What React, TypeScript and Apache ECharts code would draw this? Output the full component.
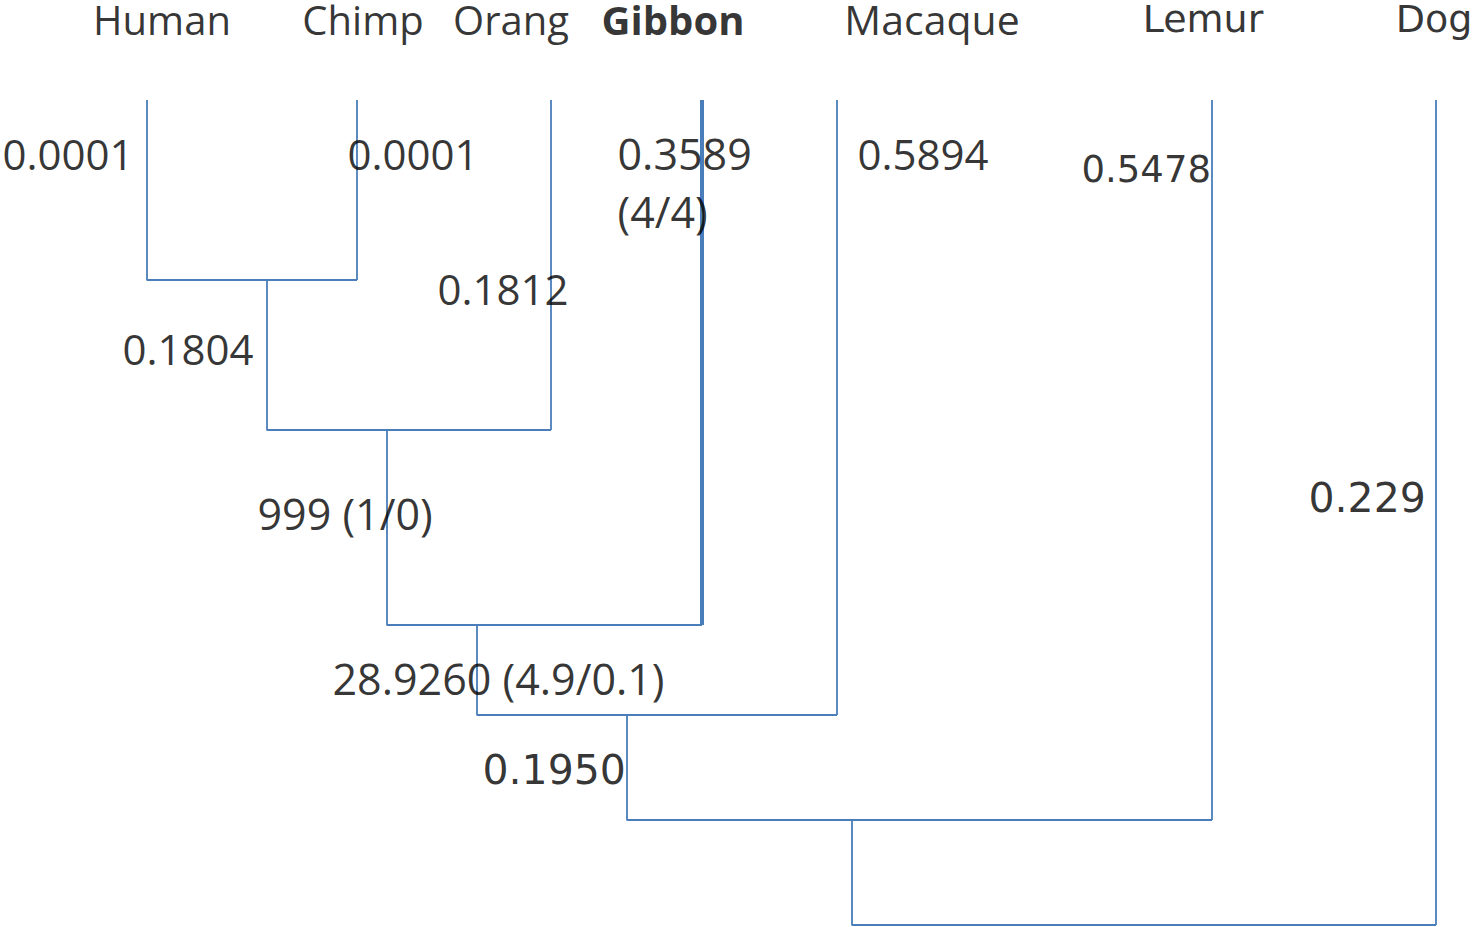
import React, { useEffect, useRef } from "react";
import * as echarts from "echarts";

// ---- data ----
const taxa = ["Human", "Chimp", "Orang", "Gibbon", "Macaque", "Lemur", "Dog"];
// merge order: each join merges the previous cluster (or first taxon) with the next taxon
const joinPairs: [string, string][] = [
  ["Human", "Chimp"],
  ["Human+Chimp", "Orang"],
  ["HCO", "Gibbon"],
  ["HCOG", "Macaque"],
  ["HCOGM", "Lemur"],
  ["HCOGML", "Dog"],
];
// depth (y value on the inverted axis) at which each join is drawn
const joinDepth = [280, 430, 625, 715, 820, 925];
const leafDepth = 100;
const branchLabels = [
  "0.0001",
  "0.0001",
  "0.1812",
  "0.3589\n(4/4)",
  "0.5894",
  "0.5478",
  "0.229",
  "0.1804",
  "999 (1/0)",
  "28.9260 (4.9/0.1)",
  "0.1950",
];

// ---- layout ----
const W = 1475;
const H = 927;
const leafX = [147, 357, 551, 702, 837, 1212, 1436];
const stemX = [267, 387, 477, 627, 852];
const nameX = [162, 363, 511, 673, 932, 1203, 1434];
const nameY = 19;
const labelPos: [number, number][] = [
  [2, 153],
  [347, 153],
  [437, 288],
  [617, 182],
  [857, 153],
  [1081, 169],
  [1308, 498],
  [122, 348],
  [257, 513],
  [332, 678],
  [482, 770],
];
const labelFont: { f: string; s: number; lh?: number }[] = [
  { f: "Open Sans", s: 42 },
  { f: "Open Sans", s: 42 },
  { f: "Open Sans", s: 42 },
  { f: "Open Sans", s: 43, lh: 58 },
  { f: "Open Sans", s: 42 },
  { f: "DejaVu Sans", s: 37 },
  { f: "DejaVu Sans", s: 41 },
  { f: "Open Sans", s: 42 },
  { f: "Open Sans", s: 43 },
  { f: "Open Sans", s: 43 },
  { f: "DejaVu Sans", s: 41 },
];
const nameFont: { f: string; s: number; w?: string }[] = [
  { f: "Open Sans", s: 40 },
  { f: "Open Sans", s: 40 },
  { f: "Open Sans", s: 40 },
  { f: "Open Sans", s: 40, w: "bold" },
  { f: "Open Sans", s: 41 },
  { f: "DejaVu Sans", s: 38 },
  { f: "DejaVu Sans", s: 38 },
];
const thickTaxon = "Gibbon";
const LINE = "#4a7ebb";

function buildSeries(): any[] {
  const series: any[] = [];
  const lineSeries = (pts: number[][], width: number) => ({
    type: "line",
    data: pts,
    symbol: "none",
    silent: true,
    lineStyle: { color: LINE, width },
    z: 2,
  });
  // current cluster: x of its stem, top depth of its stem
  let curX = leafX[0];
  let curTop = leafDepth;
  joinPairs.forEach((pair, i) => {
    const t = taxa.indexOf(pair[1]);
    const rx = leafX[t];
    const y = joinDepth[i];
    // left branch + horizontal bar
    series.push(
      lineSeries(
        [
          [curX, curTop],
          [curX, y],
          [rx, y],
        ],
        1.8
      )
    );
    // right (leaf) branch
    series.push(
      lineSeries(
        [
          [rx, y],
          [rx, leafDepth],
        ],
        taxa[t] === thickTaxon ? 4 : 1.8
      )
    );
    if (i < stemX.length) {
      curX = stemX[i];
      curTop = y;
    }
  });

  // taxon names
  series.push({
    type: "scatter",
    silent: true,
    symbolSize: 1,
    itemStyle: { color: "rgba(0,0,0,0)" },
    z: 5,
    label: {
      show: true,
      position: "inside",
      color: "#000",
      lineHeight: 34,
      formatter: (p: any) => taxa[p.dataIndex],
    },
    data: taxa.map((_, i) => ({
      value: [nameX[i], nameY],
      label: {
        fontFamily: nameFont[i].f,
        fontSize: nameFont[i].s,
        fontWeight: nameFont[i].w || "normal",
        lineHeight: 34,
      },
    })),
  });

  // branch labels
  series.push({
    type: "scatter",
    silent: true,
    symbolSize: 1,
    itemStyle: { color: "rgba(0,0,0,0)" },
    z: 5,
    label: {
      show: true,
      position: "right",
      distance: 0,
      color: "#000",
      align: "left",
      verticalAlign: "middle",
      formatter: (p: any) => branchLabels[p.dataIndex],
    },
    data: branchLabels.map((_, i) => ({
      value: labelPos[i],
      label: {
        fontFamily: labelFont[i].f,
        fontSize: labelFont[i].s,
        lineHeight: labelFont[i].lh || Math.round(labelFont[i].s * 1.2),
      },
    })),
  });
  return series;
}

export default function App() {
  const ref = useRef<HTMLDivElement>(null);
  useEffect(() => {
    if (!ref.current) return;
    const chart = echarts.init(ref.current, null, { renderer: "svg" });
    chart.setOption({
      animation: false,
      backgroundColor: "#ffffff",
      grid: { left: 0, right: 0, top: 0, bottom: 0 },
      xAxis: { type: "value", min: 0, max: W, show: false },
      yAxis: { type: "value", min: 0, max: H, inverse: true, show: false },
      series: buildSeries(),
    });
    return () => chart.dispose();
  }, []);
  return (
    <div
      ref={ref}
      style={{ position: "fixed", left: 0, top: 0, width: W, height: H, background: "#fff" }}
    />
  );
}
